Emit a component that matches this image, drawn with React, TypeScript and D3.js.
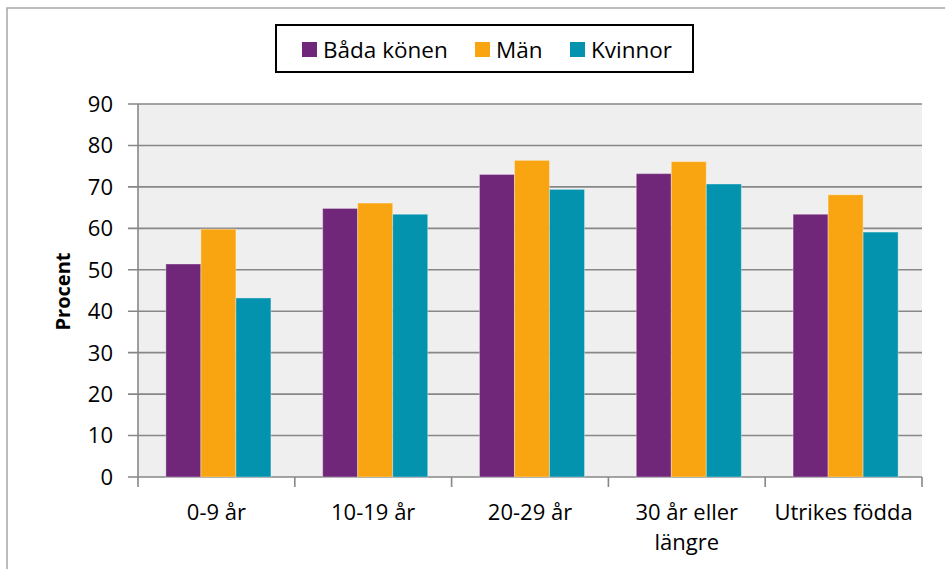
import React from "react";
import * as d3 from "d3";

const categories = ["0-9 år", "10-19 år", "20-29 år", "30 år eller längre", "Utrikes födda"];
const categoryLines = [["0-9 år"], ["10-19 år"], ["20-29 år"], ["30 år eller", "längre"], ["Utrikes födda"]];
const seriesNames = ["Båda könen", "Män", "Kvinnor"];
const seriesColors = ["#70277a", "#f9a512", "#0493ae"];
const bada = [51.4, 64.8, 73.0, 73.2, 63.4];
const man = [59.8, 66.1, 76.4, 76.1, 68.1];
const kvinnor = [43.2, 63.4, 69.4, 70.7, 59.1];
const yTicks = [0, 10, 20, 30, 40, 50, 60, 70, 80, 90];

const FONT = "'Open Sans', 'Noto Sans', sans-serif";

export default function App() {
  const W = 945, H = 569;
  const left = 138, right = 922, top = 104, bottom = 477;
  const y = d3.scaleLinear().domain([0, 90]).range([bottom, top]);
  const x = d3.scaleBand<string>().domain(categories).range([left, right]).paddingInner(0).paddingOuter(0);
  const bw = x.bandwidth();
  const groupW = bw * 0.67;
  const inner = d3.scaleBand<string>().domain(seriesNames).range([0, groupW]);
  const series = [bada, man, kvinnor];
  const grid = "#878787";

  const legendItems = [
    { name: seriesNames[0], color: seriesColors[0], sx: 302 },
    { name: seriesNames[1], color: seriesColors[1], sx: 475 },
    { name: seriesNames[2], color: seriesColors[2], sx: 570 },
  ];

  return (
    <svg width={W} height={H} style={{ position: "absolute", left: 0, top: 0 }} fontFamily={FONT}>
      <rect x={0} y={0} width={W} height={H} fill="#ffffff" />
      <rect x={7} y={8} width={W + 20} height={H + 20} fill="#ffffff" stroke="#a6a6a6" strokeWidth={1.5} />
      <rect x={left} y={top} width={right - left} height={bottom - top} fill="#efefef" />
      {yTicks.map((t) => (
        <g key={t}>
          <line x1={128} x2={right} y1={y(t)} y2={y(t)} stroke={grid} strokeWidth={1.6} />
          <text x={113} y={y(t)} dy="0.36em" textAnchor="end" fontSize={22} fill="#000">{t}</text>
        </g>
      ))}
      <line x1={left} x2={left} y1={top} y2={bottom + 10} stroke={grid} strokeWidth={1.6} />
      {categories.map((c) => (
        <line key={c} x1={(x(c) as number) + bw} x2={(x(c) as number) + bw} y1={bottom} y2={bottom + 10} stroke={grid} strokeWidth={1.6} />
      ))}
      {categories.map((c, i) => {
        const gx = (x(c) as number) + (bw - groupW) / 2 + 2;
        return (
          <g key={c}>
            {series.map((s, j) => (
              <rect
                key={j}
                x={gx + (inner(seriesNames[j]) as number)}
                y={y(s[i])}
                width={inner.bandwidth()}
                height={bottom - y(s[i])}
                fill={seriesColors[j]}
                stroke="rgba(255,255,255,0.35)"
                strokeWidth={1}
              />
            ))}
          </g>
        );
      })}
      {categories.map((c, i) => (
        <text key={c} x={(x(c) as number) + bw / 2} textAnchor="middle" fontSize={22} fill="#000">
          {categoryLines[i].map((l, k) => (
            <tspan key={k} x={(x(c) as number) + bw / 2} y={520 + k * 30}>{l}</tspan>
          ))}
        </text>
      ))}
      <text transform={`translate(70,${(top + bottom) / 2 + 1}) rotate(-90)`} textAnchor="middle" fontSize={20} fontWeight="bold" fill="#000">Procent</text>
      <rect x={276} y={25} width={417} height={47} fill="#ffffff" stroke="#000" strokeWidth={2} />
      {legendItems.map((it) => (
        <g key={it.name}>
          <rect x={it.sx} y={42} width={15} height={15} fill={it.color} />
          <text x={it.sx + 21} y={50} dy="0.36em" fontSize={22.5} fill="#000">{it.name}</text>
        </g>
      ))}
    </svg>
  );
}
